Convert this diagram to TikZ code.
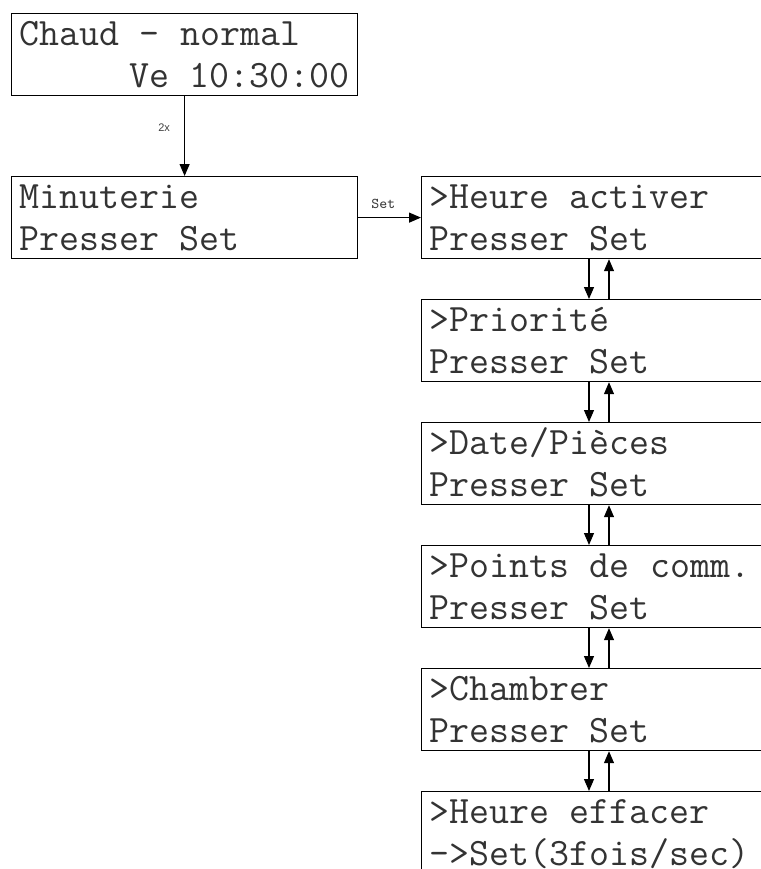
\documentclass[tikz,border=0pt]{standalone}
\usepackage{fontspec}
\setsansfont{Liberation Sans}
\usetikzlibrary{arrows.meta}
\newcommand\lcdfont{\ttfamily\fontsize{19.4}{21}\selectfont}
\newcommand\lcdspace{\spaceskip=10.185pt\xspaceskip=10.185pt\relax}

\begin{document}
\begin{tikzpicture}[x=0.5pt,y=-0.5pt,->,>={Triangle[length=6pt,width=5pt]},line width=0.6pt,
  lcd box/.style={draw,rectangle,anchor=north west,minimum width=173pt,inner xsep=4pt,inner ysep=0pt,
    text width=165pt,text height=16pt,text depth=25pt,text=black!80,font=\lcdfont,
    execute at begin node=\lcdspace},
  key label/.style={inner sep=0pt,text=black!75}]

  \useasboundingbox (0,0) rectangle (761,869);
  \clip (0,0) rectangle (761,869);

  \node[lcd box] (start) at (11,13) {Chaud - normal\\ \hfill Ve 10:30:00};
  \node[lcd box] (timer) at (11,176) {Minuterie\\Presser Set};
  \node[lcd box] (m1) at (421,176) {>Heure activer\\Presser Set};
  \node[lcd box] (m2) at (421,299) {>Priorité\\Presser Set};
  \node[lcd box] (m3) at (421,422) {>Date/Pièces\\Presser Set};
  \node[lcd box] (m4) at (421,545) {>Points de comm.\\Presser Set};
  \node[lcd box] (m5) at (421,668) {>Chambrer\\Presser Set};
  \node[lcd box] (m6) at (421,791) {>Heure effacer\\->Set(3fois/sec)};

    \path
      (start) edge node[key label,pos=0.4,left=7pt,font=\sffamily\fontsize{5.5}{6}\selectfont] {2x} (timer)
      (timer) edge node[key label,pos=0.4,above=4pt,font=\ttfamily\fontsize{7.5}{8}\selectfont] {Set} (m1);

    % down / up between the menu entries
    \path
      ([xshift=84pt]m1.south west) edge ([xshift=84pt]m2.north west)
      ([xshift=94pt]m2.north west) edge ([xshift=94pt]m1.south west)
      ([xshift=84pt]m2.south west) edge ([xshift=84pt]m3.north west)
      ([xshift=94pt]m3.north west) edge ([xshift=94pt]m2.south west)
      ([xshift=84pt]m3.south west) edge ([xshift=84pt]m4.north west)
      ([xshift=94pt]m4.north west) edge ([xshift=94pt]m3.south west)
      ([xshift=84pt]m4.south west) edge ([xshift=84pt]m5.north west)
      ([xshift=94pt]m5.north west) edge ([xshift=94pt]m4.south west)
      ([xshift=84pt]m5.south west) edge ([xshift=84pt]m6.north west)
      ([xshift=94pt]m6.north west) edge ([xshift=94pt]m5.south west);

\end{tikzpicture}
\end{document}
